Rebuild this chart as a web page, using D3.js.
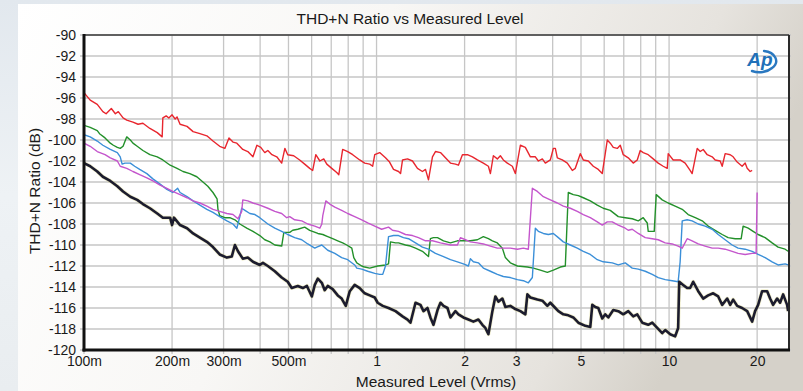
<!DOCTYPE html>
<html>
<head>
<meta charset="utf-8">
<script src="https://cdn.jsdelivr.net/npm/d3@7"></script>
<style>
  html, body { margin: 0; padding: 0; background: #e6ebef; }
  svg { display: block; }
  text { font-family: "Liberation Sans", Arial, sans-serif; fill: #1a1a1a; }
</style>
</head>
<body>
<svg id="chart" width="803" height="391"></svg>
<script>
// ---- data (Measured level in Vrms, THD+N ratio in dB) ----
const chartTitle = "THD+N Ratio vs Measured Level";
const xAxisTitle = "Measured Level (Vrms)";
const yAxisTitle = "THD+N Ratio (dB)";

const xTickValues = [0.1, 0.2, 0.3, 0.5, 1, 2, 3, 5, 10, 20];
const xTickLabels = ["100m", "200m", "300m", "500m", "1", "2", "3", "5", "10", "20"];
const xGridValues = [0.1, 0.2, 0.3, 0.4, 0.5, 0.6, 0.7, 0.8, 0.9, 1, 2, 3, 4, 5, 6, 7, 8, 9, 10, 20];
const yTickValues = [-90, -92, -94, -96, -98, -100, -102, -104, -106, -108, -110, -112, -114, -116, -118, -120];
const yTickLabels = ["-90", "-92", "-94", "-96", "-98", "-100", "-102", "-104", "-106", "-108", "-110", "-112", "-114", "-116", "-118", "-120"];
const xDomain = [0.1, 25.7];
const yDomain = [-90, -120];

const redSeries = [[0.100,-95.5],[0.105,-96.2],[0.111,-96.6],[0.116,-97.3],[0.119,-97.5],[0.124,-97.0],[0.128,-97.5],[0.131,-97.3],[0.136,-97.9],[0.140,-98.1],[0.147,-98.3],[0.153,-98.5],[0.159,-98.4],[0.168,-98.9],[0.178,-99.3],[0.185,-99.7],[0.186,-97.9],[0.191,-97.7],[0.195,-97.9],[0.200,-97.6],[0.205,-98.0],[0.208,-97.8],[0.213,-98.5],[0.225,-98.7],[0.236,-99.2],[0.249,-99.4],[0.263,-99.6],[0.276,-100.1],[0.291,-100.6],[0.303,-100.8],[0.313,-99.8],[0.323,-100.2],[0.333,-100.3],[0.349,-100.9],[0.363,-101.1],[0.378,-101.6],[0.390,-100.5],[0.402,-100.7],[0.415,-101.2],[0.425,-101.0],[0.439,-101.4],[0.456,-101.6],[0.474,-102.2],[0.486,-100.8],[0.497,-101.4],[0.521,-101.5],[0.546,-101.9],[0.568,-102.3],[0.591,-102.7],[0.605,-102.9],[0.620,-101.4],[0.640,-102.0],[0.660,-101.8],[0.676,-102.3],[0.703,-102.7],[0.731,-103.1],[0.743,-103.3],[0.766,-100.9],[0.797,-101.1],[0.829,-101.4],[0.876,-101.9],[0.911,-102.2],[0.948,-102.3],[0.970,-102.5],[0.986,-101.4],[1.025,-101.2],[1.073,-101.7],[1.108,-102.1],[1.143,-102.8],[1.189,-103.0],[1.208,-103.2],[1.227,-101.9],[1.276,-101.8],[1.327,-102.0],[1.380,-102.7],[1.435,-103.0],[1.470,-102.8],[1.505,-103.8],[1.553,-101.6],[1.590,-101.1],[1.654,-101.2],[1.720,-101.7],[1.789,-102.2],[1.861,-102.3],[1.905,-102.4],[1.966,-101.4],[2.045,-101.4],[2.127,-101.6],[2.212,-101.9],[2.318,-102.2],[2.412,-102.5],[2.450,-103.2],[2.508,-101.5],[2.588,-101.8],[2.650,-101.5],[2.713,-101.9],[2.800,-102.2],[2.912,-102.5],[2.982,-103.2],[3.102,-100.5],[3.226,-100.7],[3.356,-101.6],[3.490,-101.6],[3.574,-102.0],[3.688,-101.8],[3.776,-102.2],[3.927,-101.9],[4.021,-100.8],[4.085,-100.8],[4.150,-101.7],[4.316,-101.9],[4.489,-102.2],[4.669,-102.9],[4.780,-102.7],[4.972,-101.3],[5.091,-101.9],[5.295,-102.0],[5.507,-102.5],[5.728,-102.8],[5.910,-103.2],[6.149,-100.0],[6.295,-100.3],[6.445,-100.7],[6.651,-100.8],[6.810,-100.5],[6.972,-101.4],[7.252,-101.7],[7.542,-102.2],[7.784,-101.9],[7.969,-101.0],[8.159,-101.2],[8.487,-101.4],[8.827,-101.8],[9.182,-102.2],[9.549,-102.5],[9.855,-102.7],[9.933,-101.3],[10.33,-101.9],[10.91,-101.9],[11.35,-102.2],[11.80,-102.9],[11.99,-103.2],[12.48,-100.8],[12.78,-101.1],[13.08,-100.9],[13.50,-101.4],[14.04,-101.6],[14.37,-101.9],[14.95,-102.0],[15.19,-102.5],[15.55,-101.3],[16.18,-101.4],[16.56,-101.6],[17.09,-102.1],[17.77,-102.5],[18.20,-102.2],[18.49,-102.7],[18.93,-103.0],[19.23,-102.9]];

const greenSeries = [[0.100,-98.6],[0.105,-98.8],[0.111,-99.1],[0.113,-99.4],[0.118,-99.8],[0.123,-100.3],[0.126,-100.5],[0.130,-100.7],[0.133,-100.8],[0.136,-100.6],[0.140,-99.7],[0.144,-100.0],[0.147,-100.3],[0.152,-100.6],[0.159,-101.0],[0.168,-101.4],[0.178,-101.6],[0.186,-101.9],[0.197,-102.4],[0.208,-102.7],[0.218,-103.0],[0.230,-103.2],[0.243,-103.5],[0.255,-104.0],[0.265,-104.4],[0.276,-105.0],[0.285,-105.6],[0.287,-106.6],[0.291,-107.2],[0.303,-107.4],[0.315,-107.4],[0.328,-107.6],[0.341,-108.0],[0.360,-108.4],[0.378,-108.7],[0.399,-109.1],[0.415,-109.5],[0.432,-109.7],[0.449,-110.0],[0.474,-110.1],[0.482,-108.8],[0.505,-108.8],[0.517,-108.6],[0.538,-108.5],[0.568,-108.3],[0.591,-108.6],[0.630,-108.9],[0.655,-109.0],[0.681,-109.2],[0.708,-109.4],[0.737,-109.6],[0.766,-109.8],[0.791,-110.0],[0.823,-110.3],[0.836,-111.2],[0.856,-111.7],[0.890,-112.0],[0.911,-112.1],[0.948,-112.2],[1.009,-112.0],[1.073,-111.9],[1.099,-111.8],[1.116,-109.7],[1.161,-109.8],[1.189,-109.8],[1.256,-110.0],[1.306,-110.1],[1.359,-110.3],[1.435,-110.6],[1.505,-111.1],[1.528,-109.4],[1.565,-109.3],[1.616,-109.3],[1.694,-109.6],[1.789,-109.8],[1.890,-109.6],[1.981,-109.6],[2.093,-109.6],[2.212,-109.5],[2.318,-109.2],[2.412,-109.4],[2.489,-109.6],[2.588,-109.8],[2.692,-110.3],[2.757,-111.2],[2.867,-111.7],[3.030,-112.0],[3.278,-112.1],[3.436,-112.2],[3.630,-112.4],[3.836,-112.6],[4.021,-112.4],[4.249,-112.1],[4.419,-112.0],[4.524,-105.0],[4.705,-105.2],[4.895,-105.3],[5.091,-105.5],[5.379,-105.8],[5.683,-106.2],[5.957,-106.5],[6.295,-106.7],[6.704,-107.3],[7.083,-107.4],[7.483,-107.5],[7.845,-107.7],[8.159,-107.4],[8.421,-107.9],[8.487,-108.7],[8.897,-108.7],[9.038,-105.2],[9.474,-105.7],[9.933,-106.0],[10.49,-106.3],[11.09,-106.6],[11.62,-107.1],[12.29,-107.4],[12.98,-107.7],[13.60,-108.2],[14.37,-108.6],[15.19,-109.0],[15.92,-109.3],[16.82,-109.4],[17.64,-109.4],[17.91,-108.2],[18.64,-108.4],[19.38,-108.7],[20.16,-109.0],[21.30,-109.3],[22.50,-109.8],[23.59,-110.2],[24.93,-110.4],[25.52,-110.6]];

const blueSeries = [[0.100,-99.5],[0.105,-99.7],[0.111,-100.1],[0.116,-100.5],[0.123,-100.9],[0.130,-101.2],[0.133,-101.6],[0.135,-102.3],[0.138,-102.2],[0.144,-102.2],[0.149,-102.5],[0.155,-102.8],[0.164,-103.2],[0.172,-103.7],[0.182,-104.2],[0.192,-104.7],[0.201,-105.0],[0.209,-104.6],[0.213,-105.0],[0.225,-105.4],[0.236,-105.8],[0.249,-106.2],[0.263,-106.6],[0.276,-106.9],[0.291,-107.3],[0.308,-107.7],[0.323,-108.0],[0.333,-108.4],[0.341,-107.3],[0.346,-106.5],[0.355,-106.7],[0.369,-107.0],[0.384,-107.1],[0.399,-107.4],[0.425,-108.0],[0.449,-108.4],[0.474,-108.7],[0.497,-109.0],[0.525,-109.3],[0.555,-109.5],[0.582,-109.9],[0.615,-110.3],[0.625,-110.2],[0.650,-110.0],[0.681,-110.5],[0.720,-110.8],[0.760,-111.2],[0.797,-111.4],[0.842,-111.9],[0.856,-112.2],[0.890,-112.3],[0.933,-112.5],[0.986,-112.7],[1.025,-112.8],[1.050,-112.8],[1.073,-112.0],[1.099,-109.2],[1.143,-109.1],[1.189,-109.1],[1.236,-109.3],[1.286,-109.4],[1.359,-109.8],[1.435,-110.2],[1.505,-110.4],[1.590,-110.8],[1.694,-111.1],[1.789,-111.4],[1.890,-111.6],[1.981,-111.8],[2.061,-112.0],[2.093,-111.3],[2.143,-111.6],[2.229,-111.7],[2.318,-112.2],[2.450,-112.5],[2.588,-112.8],[2.713,-113.0],[2.867,-113.1],[3.030,-113.3],[3.176,-113.4],[3.303,-113.6],[3.409,-113.1],[3.490,-108.4],[3.574,-108.7],[3.717,-108.9],[3.866,-109.0],[4.021,-108.9],[4.183,-109.3],[4.350,-109.7],[4.596,-110.0],[4.856,-110.3],[5.091,-110.6],[5.379,-110.9],[5.683,-111.4],[5.957,-111.6],[6.395,-111.7],[6.704,-111.9],[7.083,-111.7],[7.483,-112.2],[7.845,-112.3],[8.289,-112.5],[8.758,-112.8],[9.182,-113.1],[9.701,-113.3],[10.25,-113.4],[10.74,-113.5],[10.91,-111.6],[11.09,-107.7],[11.53,-107.6],[11.99,-107.7],[12.58,-108.0],[13.28,-108.2],[14.04,-108.5],[14.72,-109.0],[15.55,-109.5],[16.43,-110.0],[17.22,-110.3],[18.20,-110.4],[19.23,-110.6],[20.16,-110.9],[21.30,-111.2],[22.50,-111.6],[23.59,-111.9],[24.93,-111.8],[25.52,-111.9]];

const magentaSeries = [[0.100,-100.3],[0.105,-100.6],[0.111,-101.1],[0.118,-101.4],[0.123,-101.7],[0.130,-102.0],[0.133,-102.5],[0.140,-102.7],[0.147,-103.0],[0.155,-103.3],[0.164,-103.6],[0.172,-103.9],[0.182,-104.3],[0.192,-104.6],[0.201,-104.9],[0.213,-105.2],[0.225,-105.5],[0.236,-105.8],[0.249,-106.0],[0.263,-106.3],[0.276,-106.6],[0.291,-106.8],[0.308,-107.0],[0.323,-107.1],[0.336,-107.5],[0.346,-106.8],[0.349,-105.7],[0.363,-105.8],[0.378,-106.0],[0.399,-106.2],[0.425,-106.5],[0.449,-106.8],[0.474,-107.0],[0.493,-107.4],[0.505,-107.3],[0.525,-107.6],[0.555,-107.7],[0.582,-108.0],[0.615,-108.2],[0.640,-108.4],[0.650,-108.0],[0.655,-107.2],[0.671,-105.8],[0.692,-106.1],[0.720,-106.4],[0.760,-106.7],[0.797,-107.0],[0.842,-107.3],[0.890,-107.6],[0.933,-107.9],[0.986,-108.2],[1.041,-108.5],[1.099,-108.3],[1.134,-108.6],[1.189,-108.7],[1.256,-109.0],[1.327,-109.1],[1.391,-109.3],[1.470,-109.6],[1.553,-109.6],[1.654,-109.8],[1.789,-110.0],[1.890,-110.0],[1.935,-109.3],[2.013,-109.5],[2.093,-109.7],[2.212,-109.8],[2.318,-109.9],[2.450,-110.1],[2.588,-110.3],[2.713,-110.3],[2.867,-110.3],[3.030,-110.4],[3.176,-110.3],[3.303,-110.4],[3.409,-104.6],[3.546,-104.9],[3.717,-105.4],[3.927,-105.7],[4.150,-106.0],[4.350,-106.3],[4.596,-106.5],[4.856,-106.8],[5.091,-107.1],[5.379,-107.4],[5.683,-107.8],[5.910,-108.1],[6.149,-107.8],[6.395,-107.8],[6.704,-108.1],[7.083,-108.4],[7.252,-108.6],[7.483,-108.5],[7.845,-108.9],[8.289,-109.3],[8.758,-109.4],[9.182,-109.5],[9.701,-109.8],[10.25,-109.9],[10.74,-110.1],[11.09,-110.3],[11.53,-109.4],[11.99,-109.6],[12.58,-109.9],[13.28,-110.1],[14.04,-110.3],[14.72,-110.3],[15.55,-110.4],[16.43,-110.6],[17.22,-110.8],[18.20,-110.9],[19.23,-110.8],[19.84,-110.8],[20.00,-105.0]];

const blackSeries = [[0.100,-102.2],[0.105,-102.5],[0.111,-103.0],[0.116,-103.5],[0.123,-103.9],[0.130,-104.4],[0.136,-104.9],[0.144,-105.4],[0.152,-105.7],[0.159,-106.1],[0.168,-106.5],[0.178,-107.0],[0.186,-107.4],[0.197,-107.4],[0.200,-108.1],[0.203,-107.4],[0.213,-108.1],[0.225,-108.4],[0.236,-108.9],[0.249,-109.3],[0.263,-109.7],[0.276,-110.2],[0.291,-110.9],[0.308,-111.2],[0.320,-111.1],[0.328,-110.0],[0.336,-110.6],[0.349,-111.3],[0.363,-111.2],[0.378,-111.6],[0.399,-111.9],[0.409,-111.7],[0.425,-112.0],[0.449,-112.5],[0.474,-113.1],[0.497,-113.5],[0.513,-114.1],[0.538,-113.9],[0.560,-114.1],[0.578,-113.9],[0.601,-114.9],[0.615,-113.8],[0.630,-113.2],[0.650,-113.6],[0.665,-114.3],[0.681,-113.9],[0.708,-114.2],[0.737,-114.8],[0.760,-115.1],[0.785,-115.8],[0.810,-114.4],[0.842,-113.8],[0.876,-114.1],[0.911,-114.6],[0.948,-114.8],[0.986,-115.0],[1.009,-115.5],[1.050,-115.8],[1.099,-116.0],[1.161,-116.3],[1.227,-116.8],[1.276,-117.1],[1.306,-117.4],[1.359,-115.5],[1.413,-115.7],[1.447,-116.3],[1.493,-116.0],[1.528,-116.9],[1.565,-117.6],[1.616,-116.2],[1.654,-115.5],[1.694,-115.8],[1.748,-116.0],[1.789,-116.9],[1.861,-116.3],[1.905,-116.6],[1.981,-116.9],[2.061,-117.1],[2.143,-117.3],[2.229,-117.1],[2.300,-117.6],[2.355,-117.9],[2.412,-118.5],[2.489,-116.3],[2.548,-114.9],[2.609,-115.4],[2.692,-115.1],[2.757,-115.9],[2.867,-115.8],[2.982,-116.1],[3.102,-116.3],[3.226,-116.6],[3.278,-114.7],[3.356,-115.0],[3.546,-115.2],[3.688,-115.3],[3.836,-115.8],[3.927,-115.5],[4.085,-116.0],[4.183,-116.3],[4.350,-116.6],[4.524,-116.7],[4.705,-116.9],[4.895,-117.4],[5.172,-117.7],[5.379,-117.8],[5.464,-115.7],[5.594,-115.9],[5.728,-116.0],[5.910,-117.0],[6.052,-116.6],[6.197,-116.9],[6.445,-116.2],[6.704,-116.3],[6.972,-116.6],[7.252,-116.3],[7.542,-116.8],[7.784,-116.6],[8.095,-117.4],[8.487,-117.6],[8.758,-117.4],[9.110,-117.9],[9.474,-118.4],[9.701,-118.1],[10.09,-118.5],[10.49,-118.7],[10.74,-117.9],[10.83,-113.5],[11.17,-113.8],[11.53,-114.1],[11.80,-114.1],[12.09,-113.5],[12.58,-114.4],[13.08,-115.1],[13.60,-114.8],[14.15,-114.6],[14.72,-114.9],[15.19,-115.7],[15.80,-115.1],[16.18,-115.7],[16.56,-115.2],[17.09,-115.8],[17.77,-116.0],[18.49,-116.3],[19.23,-117.3],[19.68,-116.3],[20.16,-115.7],[20.80,-114.4],[21.64,-114.4],[22.15,-115.1],[22.68,-115.7],[23.41,-115.1],[23.96,-115.5],[24.54,-114.7],[25.32,-115.7],[25.52,-116.3]];

const seriesList = [
  { name: "green", data: greenSeries, color: "#23902a", width: 1.4 },
  { name: "blue", data: blueSeries, color: "#3b8fd8", width: 1.4 },
  { name: "magenta", data: magentaSeries, color: "#c455cc", width: 1.4 },
  { name: "red", data: redSeries, color: "#e8262e", width: 1.4 },
  { name: "black", data: blackSeries, color: "#1c1c2e", width: 2.6 }
];

// ---- layout ----
const W = 803, H = 391;
const plot = { left: 84, top: 35, right: 789, bottom: 350 };

const svg = d3.select("#chart");
const defs = svg.append("defs");

const pageGrad = defs.append("linearGradient").attr("id", "pageGrad")
  .attr("x1", "0").attr("y1", "0").attr("x2", "0").attr("y2", "1");
pageGrad.append("stop").attr("offset", "0").attr("stop-color", "#e2e8ee");
pageGrad.append("stop").attr("offset", "0.5").attr("stop-color", "#eef2f5");
pageGrad.append("stop").attr("offset", "1").attr("stop-color", "#e9edf0");

const panelGrad = defs.append("linearGradient").attr("id", "panelGrad")
  .attr("x1", "0").attr("y1", "0").attr("x2", "1").attr("y2", "0.25");
panelGrad.append("stop").attr("offset", "0").attr("stop-color", "#ffffff");
panelGrad.append("stop").attr("offset", "0.45").attr("stop-color", "#f8f7f5");
panelGrad.append("stop").attr("offset", "0.85").attr("stop-color", "#e6e3de");
panelGrad.append("stop").attr("offset", "1").attr("stop-color", "#d5d1c9");

defs.append("clipPath").attr("id", "plotClip")
  .append("rect")
  .attr("x", plot.left).attr("y", plot.top)
  .attr("width", plot.right - plot.left).attr("height", plot.bottom - plot.top);

svg.append("rect").attr("width", W).attr("height", H).attr("fill", "url(#pageGrad)");
svg.append("rect").attr("x", 18).attr("y", 4).attr("width", W - 18).attr("height", H - 4)
  .attr("fill", "url(#panelGrad)");

const x = d3.scaleLog().domain(xDomain).range([plot.left, plot.right]);
const y = d3.scaleLinear().domain(yDomain).range([plot.top, plot.bottom]);

// plot background
svg.append("rect")
  .attr("x", plot.left).attr("y", plot.top)
  .attr("width", plot.right - plot.left).attr("height", plot.bottom - plot.top)
  .attr("fill", "#ffffff");

// grid
const grid = svg.append("g");
grid.selectAll("line.vg").data(xGridValues).join("line")
  .attr("x1", d => x(d)).attr("x2", d => x(d))
  .attr("y1", plot.top).attr("y2", plot.bottom + 4)
  .attr("stroke", "#c6c6c6").attr("stroke-width", 1.3);
grid.selectAll("line.hg").data(yTickValues).join("line")
  .attr("x1", plot.left - 4).attr("x2", plot.right + 2)
  .attr("y1", d => y(d)).attr("y2", d => y(d))
  .attr("stroke", "#c6c6c6").attr("stroke-width", 1.3);

// series
const line = d3.line().x(d => x(d[0])).y(d => y(d[1]));
const lines = svg.append("g").attr("clip-path", "url(#plotClip)");
lines.append("path").datum(blackSeries)
  .attr("d", line).attr("fill", "none")
  .attr("stroke", "#d8d070").attr("stroke-opacity", 0.35).attr("stroke-width", 4)
  .attr("stroke-linejoin", "round");
seriesList.forEach(s => {
  lines.append("path").datum(s.data)
    .attr("d", line)
    .attr("fill", "none")
    .attr("stroke", s.color)
    .attr("stroke-width", s.width)
    .attr("stroke-linejoin", "round");
});

// frame
svg.append("line").attr("x1", plot.left).attr("x2", plot.right)
  .attr("y1", plot.top).attr("y2", plot.top).attr("stroke", "#3a3a3a").attr("stroke-width", 1.5);
svg.append("line").attr("x1", plot.right).attr("x2", plot.right)
  .attr("y1", plot.top).attr("y2", plot.bottom).attr("stroke", "#2a2a2a").attr("stroke-width", 2);
svg.append("line").attr("x1", plot.left).attr("x2", plot.left)
  .attr("y1", plot.top - 1).attr("y2", plot.bottom + 1.5).attr("stroke", "#111").attr("stroke-width", 3);
svg.append("line").attr("x1", plot.left - 1.5).attr("x2", plot.right + 1)
  .attr("y1", plot.bottom).attr("y2", plot.bottom).attr("stroke", "#111").attr("stroke-width", 3);

// axes labels via d3 axes
const yAxis = d3.axisLeft(y).tickValues(yTickValues).tickSize(0).tickPadding(8)
  .tickFormat((d, i) => yTickLabels[i]);
const yg = svg.append("g").attr("transform", `translate(${plot.left},0)`).call(yAxis);
yg.select(".domain").remove();
yg.selectAll("text").attr("font-size", "14px").attr("fill", "#1a1a1a")
  .attr("font-family", '"Liberation Sans", Arial, sans-serif').attr("dy", "0.3em");

const xAxis = d3.axisBottom(x).tickValues(xTickValues).tickSize(0).tickPadding(6)
  .tickFormat((d, i) => xTickLabels[i]);
const xg = svg.append("g").attr("transform", `translate(0,${plot.bottom})`).call(xAxis);
xg.select(".domain").remove();
xg.selectAll("text").attr("font-size", "14px").attr("fill", "#1a1a1a")
  .attr("font-family", '"Liberation Sans", Arial, sans-serif');

// titles
svg.append("text").attr("x", 410).attr("y", 24).attr("text-anchor", "middle")
  .attr("font-size", "15.5px").text(chartTitle);
svg.append("text").attr("x", 436).attr("y", 387).attr("text-anchor", "middle")
  .attr("font-size", "15.5px").text(xAxisTitle);
svg.append("text").attr("transform", "translate(40,191) rotate(-90)")
  .attr("text-anchor", "middle").attr("font-size", "15.5px").text(yAxisTitle);

// AP logo
const logo = svg.append("g").attr("transform", "translate(760,61)");
logo.append("path")
  .attr("d", "M 4 -10 A 14 10 0 0 1 12 7 A 16 11 0 0 1 -8 10")
  .attr("fill", "none").attr("stroke", "#2a78c0").attr("stroke-width", 2.4)
  .attr("stroke-linecap", "round");
logo.append("text").attr("x", 0).attr("y", 5).attr("text-anchor", "middle")
  .attr("font-size", "19px").attr("font-weight", "bold").attr("font-style", "italic")
  .style("fill", "#2070b8").attr("font-family", '"DejaVu Sans", Arial, sans-serif')
  .text("Ap");
</script>
</body>
</html>
